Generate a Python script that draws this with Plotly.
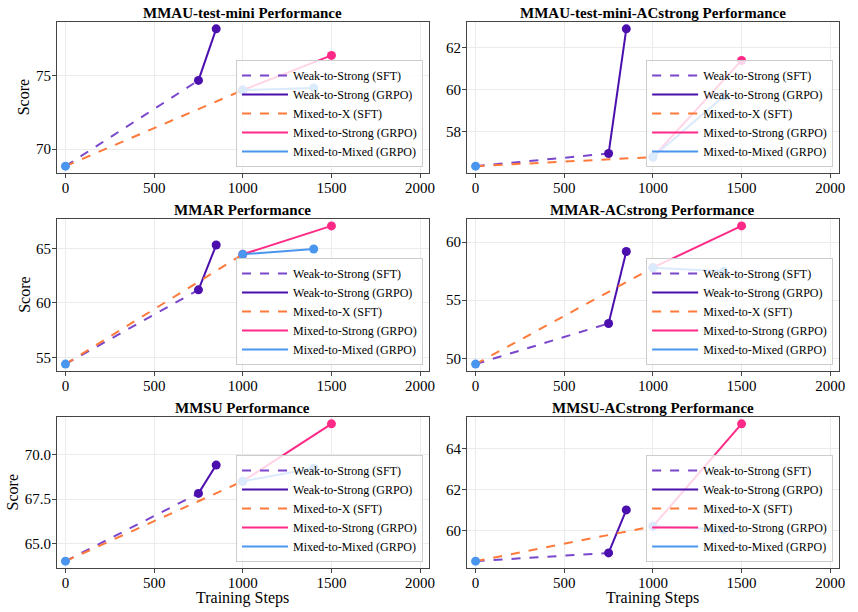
import plotly.graph_objects as go

# ---------------- data ----------------
titles = ["MMAU-test-mini Performance", "MMAU-test-mini-ACstrong Performance",
          "MMAR Performance", "MMAR-ACstrong Performance",
          "MMSU Performance", "MMSU-ACstrong Performance"]

steps_base = 0
steps_weak_sft = 750
steps_weak_grpo = 850
steps_mixed_sft = 1000
steps_mixed_strong = 1500
steps_mixed_mixed = 1400

base_scores        = [68.85, 56.37, 54.4, 49.5, 64.04, 58.5]
weak_sft_scores    = [74.66, 56.97, 61.2, 53.0, 67.82, 58.9]
weak_grpo_scores   = [78.15, 62.9, 65.3, 59.2, 69.4, 61.0]
mixed_sft_scores   = [74.0, 56.8, 64.45, 57.8, 68.5, 60.2]
mixed_strong_scores = [76.35, 61.4, 67.05, 61.4, 71.7, 65.2]
mixed_mixed_scores = [74.15, 59.7, 64.94, 57.5, 69.22, 60.03]

x_ticks = [0, 500, 1000, 1500, 2000]
y_ticks = [[70, 75], [58, 60, 62], [55, 60, 65], [50, 55, 60],
           [65.0, 67.5, 70.0], [60, 62, 64]]
y_tick_text = [["70", "75"], ["58", "60", "62"], ["55", "60", "65"], ["50", "55", "60"],
               ["65.0", "67.5", "70.0"], ["60", "62", "64"]]

names = ["Weak-to-Strong (SFT)", "Weak-to-Strong (GRPO)", "Mixed-to-X (SFT)",
         "Mixed-to-Strong (GRPO)", "Mixed-to-Mixed (GRPO)"]
colors = ["#7a46cc", "#4b0fae", "#ff7a3a", "#ff2a87", "#4a96ee"]

# ---------------- layout geometry ----------------
W, H = 858, 612
col_px = [(57, 432), (470, 845)]
row_px = [(22, 173), (219, 371), (417, 568)]
score_x_px = [24, 24, 13]
FONT = "Liberation Serif"

fig = go.Figure()
layout = dict(width=W, height=H, margin=dict(l=0, r=0, t=0, b=0),
              plot_bgcolor="white", paper_bgcolor="white",
              font=dict(family=FONT, size=14, color="black"),
              showlegend=True, annotations=[])

for i in range(6):
    r, c = divmod(i, 2)
    n = i + 1
    xa = "x" if n == 1 else f"x{n}"
    ya = "y" if n == 1 else f"y{n}"
    leg = "legend" if n == 1 else f"legend{n}"
    x0, x1 = col_px[c]
    y0, y1 = row_px[r]
    xd = [x0 / W, x1 / W]
    yd = [1 - y1 / H, 1 - y0 / H]

    series = [
        ([steps_base, steps_weak_sft], [base_scores[i], weak_sft_scores[i]], "dash", False),
        ([steps_weak_sft, steps_weak_grpo], [weak_sft_scores[i], weak_grpo_scores[i]], "solid", True),
        ([steps_base, steps_mixed_sft], [base_scores[i], mixed_sft_scores[i]], "dash", False),
        ([steps_mixed_sft, steps_mixed_strong], [mixed_sft_scores[i], mixed_strong_scores[i]], "solid", True),
        ([steps_mixed_sft, steps_mixed_mixed], [mixed_sft_scores[i], mixed_mixed_scores[i]], "solid", True),
    ]
    for k, (xs, ys, dash, mk) in enumerate(series):
        fig.add_trace(go.Scatter(
            x=xs, y=ys, name=names[k], xaxis=xa, yaxis=ya, legend=leg,
            mode="lines",
            line=dict(color=colors[k], width=2, dash="dash" if dash == "dash" else "solid"),
        ))
        if mk:
            fig.add_trace(go.Scatter(
                x=xs, y=ys, xaxis=xa, yaxis=ya, mode="markers", showlegend=False,
                marker=dict(size=9, color=colors[k]), hoverinfo="skip"))
    fig.add_trace(go.Scatter(
        x=[steps_base], y=[base_scores[i]], xaxis=xa, yaxis=ya, mode="markers",
        marker=dict(size=9, color=colors[4]), showlegend=False, hoverinfo="skip"))

    allv = [base_scores[i], weak_sft_scores[i], weak_grpo_scores[i],
            mixed_sft_scores[i], mixed_strong_scores[i], mixed_mixed_scores[i]]
    lo, hi = min(allv), max(allv)
    pad = 0.05 * (hi - lo)

    axis_common = dict(showline=True, linecolor="#444", linewidth=1.2, mirror=True,
                       showgrid=True, gridcolor="#ebebeb", gridwidth=1,
                       ticks="outside", ticklen=3.5, tickcolor="#444", zeroline=False,
                       tickfont=dict(family=FONT, size=15, color="black"))
    xkey = "xaxis" if n == 1 else f"xaxis{n}"
    ykey = "yaxis" if n == 1 else f"yaxis{n}"
    layout[xkey] = dict(domain=xd, anchor=ya, range=[-50, 2050], tickvals=x_ticks,
                        ticktext=[str(t) for t in x_ticks], ticklabelstandoff=-3,
                        **axis_common)
    layout[ykey] = dict(domain=yd, anchor=xa, range=[lo - pad, hi + pad],
                        tickvals=y_ticks[i], ticktext=y_tick_text[i], ticklabelstandoff=-2,
                        **axis_common)
    if c == 0:
        layout["annotations"].append(dict(
            text="Score", x=score_x_px[r] / W, y=1 - (y0 + y1) / 2 / H, textangle=-90,
            xref="paper", yref="paper", xanchor="center", yanchor="middle", showarrow=False,
            font=dict(family=FONT, size=16, color="black")))
    if r == 2:
        layout["annotations"].append(dict(
            text="Training Steps", x=(x0 + x1) / 2 / W, y=1 - 598 / H,
            xref="paper", yref="paper", xanchor="center", yanchor="middle", showarrow=False,
            font=dict(family=FONT, size=16, color="black")))

    layout[leg] = dict(x=(x1 - 6) / W, y=1 - (y1 - 6) / H, xanchor="right", yanchor="bottom",
                       bgcolor="rgba(255,255,255,0.8)", bordercolor="#cccccc", borderwidth=1,
                       font=dict(family=FONT, size=12, color="black"),
                       tracegroupgap=0, itemwidth=46)
    layout["annotations"].append(dict(
        text=f"<b>{titles[i]}</b>", x=(x0 + x1) / 2 / W, y=1 - (y0 - 9.5) / H,
        xref="paper", yref="paper", xanchor="center", yanchor="middle", showarrow=False,
        font=dict(family=FONT, size=15, color="black")))

fig.update_layout(**layout)
fig.write_html("out.html", config={"displayModeBar": False},
               post_script="document.body.style.margin='0';")
